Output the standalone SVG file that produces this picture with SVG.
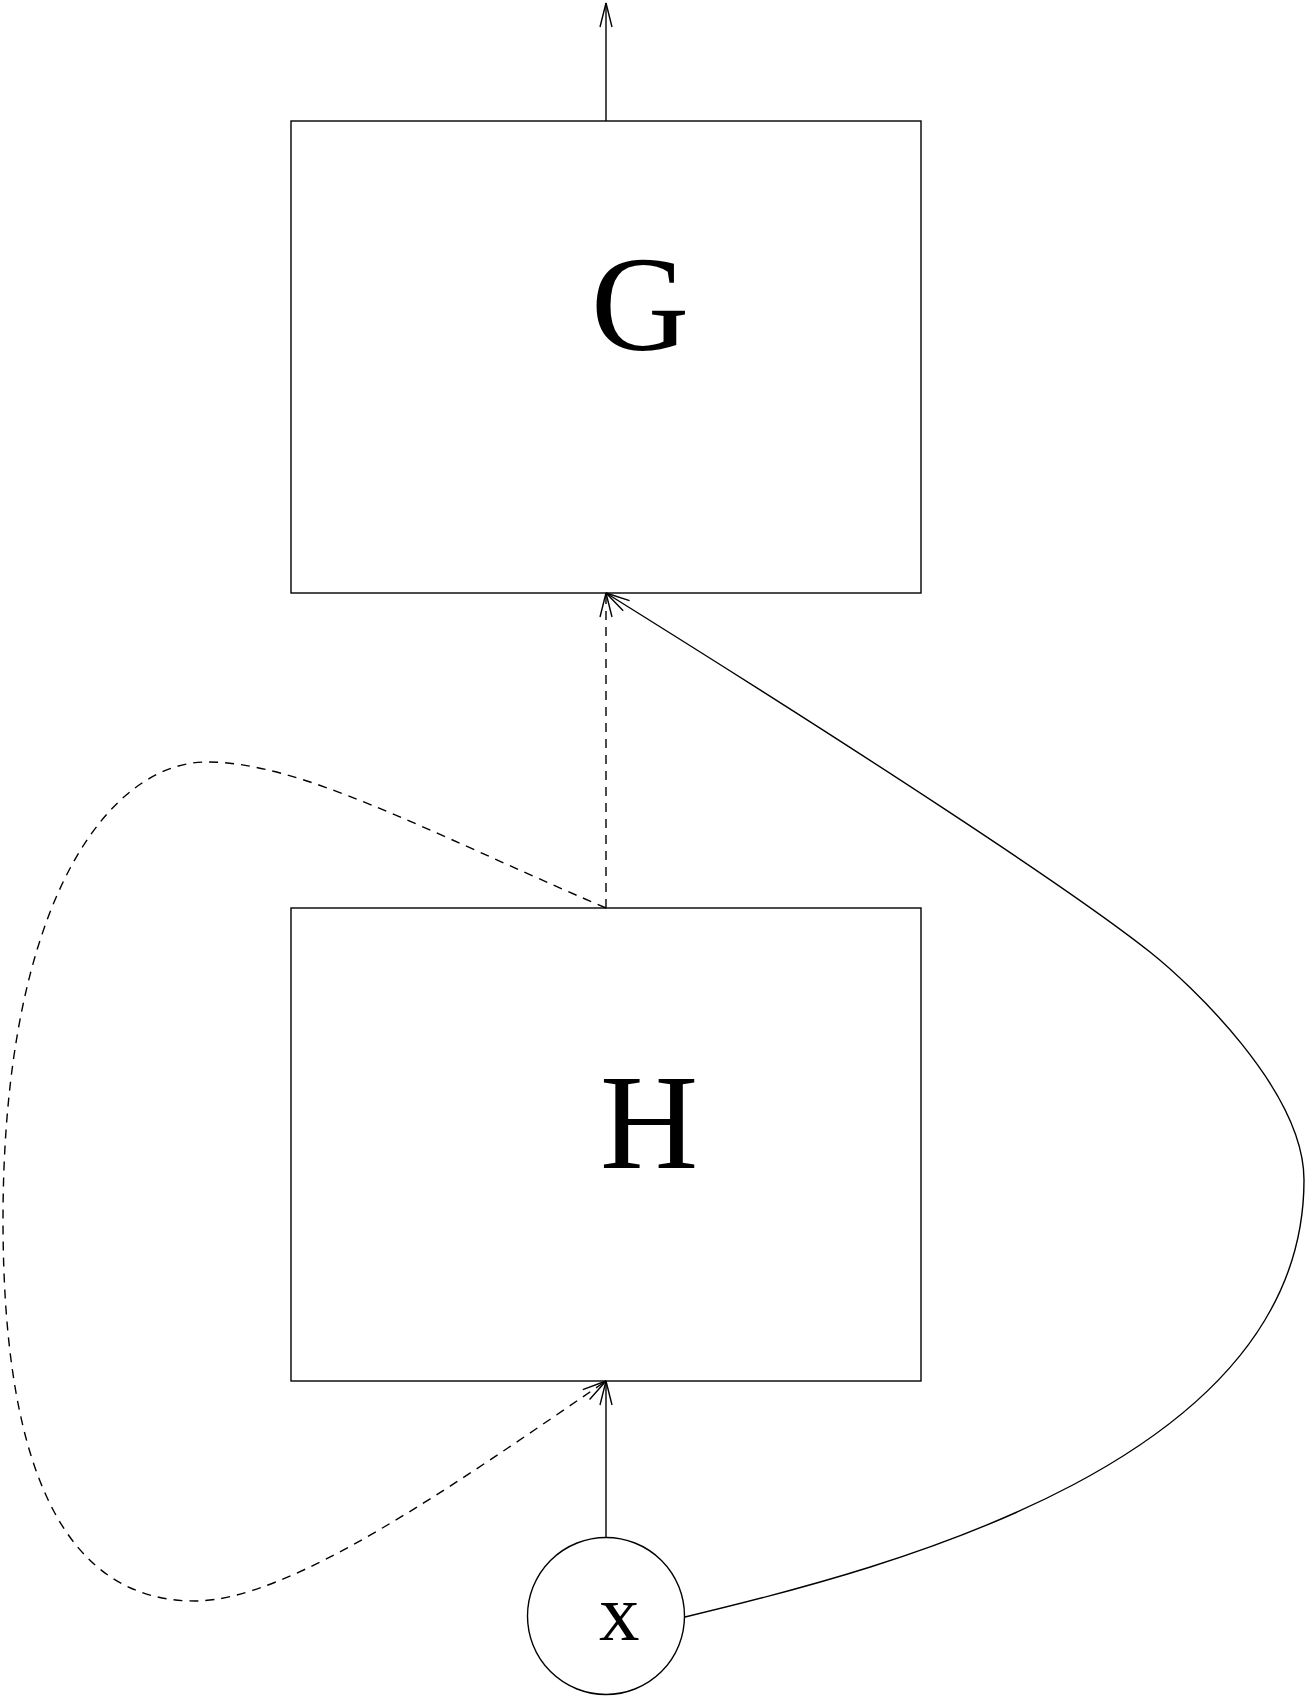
<svg xmlns="http://www.w3.org/2000/svg" width="1308" height="1697" viewBox="0 0 1308 1697">
<style>
.box{fill:none;stroke:#000;stroke-width:1.4}
.ln{fill:none;stroke:#000;stroke-width:1.4}
.dash{stroke-dasharray:9 7}
.lbl{font-family:"Liberation Serif","Times New Roman",serif;fill:#000}
</style>
<defs>
<marker id="arr" markerUnits="userSpaceOnUse" markerWidth="30" markerHeight="16" viewBox="-26 -8 30 16" refX="0" refY="0" orient="auto">
<path d="M-24,-6 L0,0 L-24,6" fill="none" stroke="#000" stroke-width="1.4"/>
</marker>
</defs>
<rect width="1308" height="1697" fill="#fff"/>
<g id="connectors">
<line class="ln" x1="606" y1="121" x2="606" y2="3" marker-end="url(#arr)"/>
<line class="ln dash" x1="606" y1="908" x2="606" y2="593" marker-end="url(#arr)"/>
<line class="ln" x1="606" y1="1537" x2="606" y2="1381" marker-end="url(#arr)"/>
<path class="ln dash" d="M606,908 C422,829 300,762 207,762 C110,762 3,900 3,1220 C3,1480 70,1601 195,1601 C290,1601 457,1483 606,1381" marker-end="url(#arr)"/>
<path class="ln" d="M685,1617 C895,1567 1304,1460 1304,1180 C1304,1090 1189,983 1150,952 C1072,890 861,752 606,593" marker-end="url(#arr)"/>
</g>
<g id="node-G">
<rect class="box" x="291" y="121" width="630" height="472"/>
<text class="lbl" x="591" y="350" font-size="136">G</text>
</g>
<g id="node-H">
<rect class="box" x="291" y="908" width="630" height="473"/>
<text class="lbl" x="600" y="1168" font-size="136">H</text>
</g>
<g id="node-x">
<circle class="box" cx="606" cy="1616" r="78.5"/>
<text class="lbl" x="599" y="1640" font-size="81">x</text>
</g>
</svg>
